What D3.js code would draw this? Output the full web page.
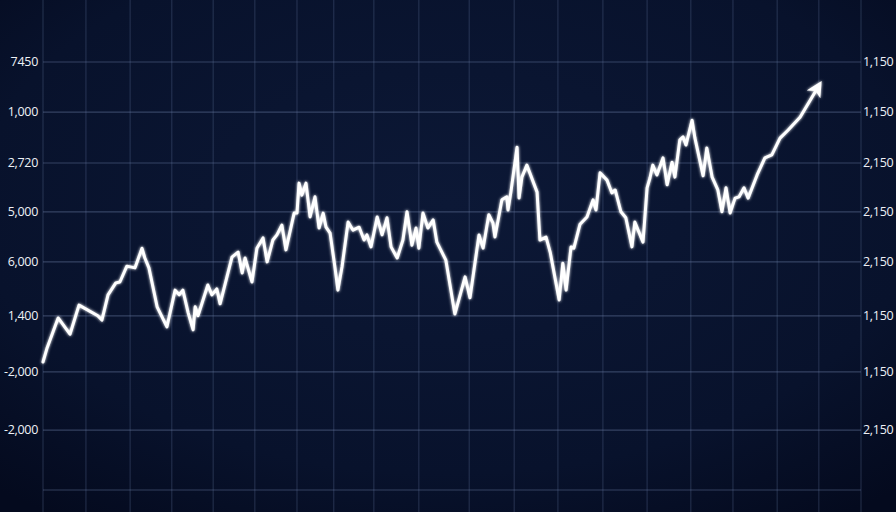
<!DOCTYPE html>
<html><head><meta charset="utf-8">
<script src="https://cdn.jsdelivr.net/npm/d3@7"></script>
<style>html,body{margin:0;padding:0;background:#08122b;overflow:hidden}</style>
</head><body><svg id="c" width="896" height="512"></svg>
<script>
// ---- data ----
const days = [0,1.0,3.7,6.6,8.8,13.4,14.4,15.9,17.8,18.8,20.5,22.5,24.2,24.9,25.9,27.9,30.3,32.3,33.3,34.2,35.5,36.7,37.2,37.9,40.3,41.3,42.5,43.3,46.2,47.7,48.7,49.4,51.1,52.3,53.8,54.8,56.2,57.2,58.4,59.4,61.4,62.1,62.6,63.3,64.3,65.3,66.5,67.5,68.5,69.2,70.2,71.4,72.1,73.1,74.6,75.8,77.3,78.5,79.2,80.2,81.7,82.9,84.1,85.1,86.6,88.0,89.0,90.2,91.2,91.9,92.9,94.1,95.4,96.3,98.5,100.7,103.2,104.4,106.6,107.6,109.0,110.0,110.5,112.2,113.4,113.7,114.4,115.9,116.4,117.1,118.3,120.8,121.5,123.0,124.0,125.2,126.2,127.1,127.9,129.1,129.8,131.3,133.0,134.5,135.2,136.2,137.9,139.1,139.9,141.3,142.5,144.0,144.7,146.7,147.7,148.4,149.1,150.1,151.6,152.6,153.8,154.5,155.7,156.5,157.2,158.7,159.4,161.4,162.3,163.6,165.0,166.0,167.0,168.0,169.2,170.2,171.4,172.4,174.6,176.5,178.2,180.2,182.2,185.1,189.4];
const values = [29.9,33.2,40.2,36.4,43.2,40.7,39.7,45.6,48.4,48.6,52.3,51.9,56.5,54.2,51.9,42.8,38.1,46.7,45.6,46.7,41.4,37.4,42.8,40.7,47.9,45.6,47.0,43.5,54.4,55.6,50.7,54.2,48.6,56.5,58.9,53.3,58.4,59.6,61.9,56.1,64.7,64.7,71.7,68.9,71.7,63.8,68.5,61.2,64.7,61.4,60.0,51.9,46.7,52.1,62.6,60.7,61.4,58.4,59.6,56.8,63.8,59.6,63.6,56.8,54.2,58.4,65.0,57.2,61.2,56.5,64.7,61.2,63.1,57.9,53.7,41.1,49.8,44.9,59.6,56.5,64.3,62.4,59.1,67.8,68.5,65.4,69.6,80.1,68.2,73.1,75.9,69.6,58.4,59.1,55.6,49.5,44.4,53.0,46.7,56.8,56.5,62.1,63.8,67.8,65.4,74.1,72.4,69.4,70.1,65.0,63.6,56.8,62.6,57.9,70.6,72.9,75.9,73.6,77.6,71.3,76.6,73.1,81.8,82.5,80.6,86.4,82.2,73.4,79.9,73.1,70.1,65.0,70.6,64.7,68.2,68.5,70.6,68.2,73.6,77.6,78.3,82.2,84.1,87.1,94.0];
const gridDays = [0,10.5,21.3,31.5,41.6,51.8,62.1,71.1,80.9,91.9,104.2,115.2,125.9,136.9,147.7,158.4,168.7,179.5,189.7,200];
const gridValues = [100,88.3,76.4,65.0,53.3,40.7,27.6,14.0,0];
const leftLabels = ["7450","1,000","2,720","5,000","6,000","1,400","-2,000","-2,000"];
const rightLabels = ["1,150","1,150","2,150","2,150","2,150","1,150","1,150","2,150"];

// ---- drawing ----
const W = 896, H = 512;
const svg = d3.select("#c");
const defs = svg.append("defs");
const bg = defs.append("radialGradient").attr("id","bg").attr("cx","50%").attr("cy","40%").attr("r","75%");
bg.append("stop").attr("offset","0%").attr("stop-color","#0c1836");
bg.append("stop").attr("offset","70%").attr("stop-color","#08122c");
bg.append("stop").attr("offset","100%").attr("stop-color","#040a1e");
svg.append("rect").attr("width",W).attr("height",H).attr("fill","url(#bg)");

const glow = defs.append("filter").attr("id","glow").attr("x","-10%").attr("y","-10%").attr("width","120%").attr("height","120%");
glow.append("feGaussianBlur").attr("stdDeviation",1.6).attr("result","b");
const fm = glow.append("feMerge");
fm.append("feMergeNode").attr("in","b");
fm.append("feMergeNode").attr("in","SourceGraphic");

const x = d3.scaleLinear().domain([0,200]).range([43,861]);
const y = d3.scaleLinear().domain([0,100]).range([490,62]);

const g = svg.append("g");
g.selectAll("line.v").data(gridDays).join("line")
  .attr("x1",d=>x(d)).attr("x2",d=>x(d)).attr("y1",0).attr("y2",H)
  .attr("stroke","#5d6f96").attr("stroke-opacity",0.38).attr("stroke-width",1);
g.selectAll("line.h").data(gridValues).join("line")
  .attr("x1",x(0)).attr("x2",x(200)).attr("y1",d=>y(d)).attr("y2",d=>y(d))
  .attr("stroke","#6a7ca3").attr("stroke-opacity",0.45).attr("stroke-width",1.2);

const font = "'Open Sans', 'DejaVu Sans', sans-serif";
g.selectAll("text.l").data(leftLabels).join("text")
  .attr("x",38).attr("y",(d,i)=>y(gridValues[i])).attr("dy","0.35em")
  .attr("text-anchor","end").attr("fill","#eef1f6").attr("font-family",font)
  .attr("font-size",12.5).attr("letter-spacing",-0.3).text(d=>d);
g.selectAll("text.r").data(rightLabels).join("text")
  .attr("x",863).attr("y",(d,i)=>y(gridValues[i])).attr("dy","0.35em")
  .attr("text-anchor","start").attr("fill","#eef1f6").attr("font-family",font)
  .attr("font-size",12.5).attr("letter-spacing",-0.3).text(d=>d);

const marker = defs.append("marker").attr("id","arrow").attr("viewBox","0 0 10 10")
  .attr("refX",5).attr("refY",5).attr("markerWidth",5.2).attr("markerHeight",5.2)
  .attr("markerUnits","strokeWidth").attr("orient","auto");
marker.append("path").attr("d","M0,0 L10,5 L0,10 L2.5,5 z").attr("fill","#ffffff");

const pts = days.map((d,i)=>[d,values[i]]);
const line = d3.line().x(d=>x(d[0])).y(d=>y(d[1])).curve(d3.curveLinear);
svg.append("path").datum(pts).attr("d",line)
  .attr("fill","none").attr("stroke","#ffffff").attr("stroke-width",3)
  .attr("stroke-linejoin","round").attr("stroke-linecap","round")
  .attr("filter","url(#glow)").attr("marker-end","url(#arrow)");
</script></body></html>
